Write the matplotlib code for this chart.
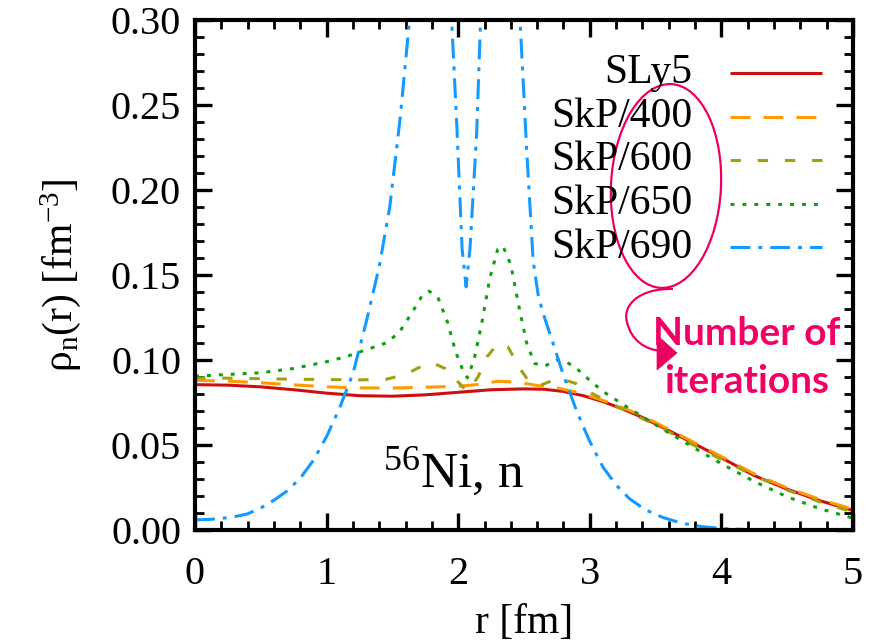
import matplotlib; matplotlib.use("Agg")
import matplotlib.pyplot as plt
import matplotlib.patches as patches
import matplotlib.transforms as mtransforms
from matplotlib.path import Path
from matplotlib.ticker import MultipleLocator, FormatStrFormatter

plt.rcParams["font.family"] = ["Liberation Serif", "DejaVu Serif"]
plt.rcParams["mathtext.fontset"] = "custom"
plt.rcParams["mathtext.rm"] = "Liberation Serif"
plt.rcParams["mathtext.it"] = "Liberation Serif"

# neutron densities, r in fm, rho in fm^-3
r_sly5 = [0.0, 0.25, 0.5, 0.75, 1.0, 1.25, 1.5, 1.75, 2.0, 2.25, 2.5, 2.65,
          2.8, 2.95, 3.1, 3.25, 3.4, 3.55, 3.75, 4.0, 4.25, 4.5, 4.75, 5.0]
rho_sly5 = [0.0855, 0.0852, 0.0842, 0.0825, 0.0805, 0.0790, 0.0787, 0.0795,
            0.0810, 0.0825, 0.0830, 0.0828, 0.0815, 0.0790, 0.0755, 0.0712,
            0.0662, 0.0605, 0.0525, 0.0425, 0.0320, 0.0240, 0.0172, 0.0115]

r_400 = [0.0, 0.25, 0.5, 0.75, 1.0, 1.25, 1.5, 1.75, 2.0, 2.15, 2.3, 2.45,
         2.6, 2.75, 2.9, 3.05, 3.2, 3.35, 3.5, 3.75, 4.0, 4.25, 4.5, 4.75, 5.0]
rho_400 = [0.0880, 0.0876, 0.0866, 0.0854, 0.0842, 0.0836, 0.0835, 0.0840,
           0.0845, 0.0856, 0.0875, 0.0870, 0.0850, 0.0836, 0.0810, 0.0775,
           0.0735, 0.0688, 0.0632, 0.0532, 0.0432, 0.0330, 0.0247, 0.0180,
           0.0122]

r_600 = [0.0, 0.25, 0.5, 0.75, 1.0, 1.25, 1.45, 1.6, 1.7, 1.8, 1.9, 2.0,
         2.07, 2.15, 2.22, 2.3, 2.38, 2.46, 2.55, 2.62, 2.72, 2.8, 2.9, 3.0,
         3.15, 3.3, 3.5, 3.75, 4.0, 4.25, 4.5, 4.75, 5.0]
rho_600 = [0.0895, 0.0893, 0.0890, 0.0887, 0.0885, 0.0883, 0.0886, 0.0915,
           0.0955, 0.0985, 0.0950, 0.0870, 0.0815, 0.0900, 0.1020, 0.1095,
           0.1075, 0.0960, 0.0860, 0.0850, 0.0880, 0.0885, 0.0860, 0.0810,
           0.0750, 0.0690, 0.0620, 0.0515, 0.0415, 0.0320, 0.0235, 0.0165,
           0.0105]

r_650 = [0.0, 0.25, 0.5, 0.75, 1.0, 1.15, 1.3, 1.45, 1.55, 1.65, 1.72, 1.78,
         1.85, 1.92, 1.98, 2.04, 2.07, 2.12, 2.18, 2.24, 2.3, 2.34, 2.4, 2.46,
         2.52, 2.58, 2.66, 2.75, 2.82, 2.9, 3.0, 3.1, 3.3, 3.55, 3.8, 4.0,
         4.25, 4.5, 4.75, 5.0]
rho_650 = [0.0905, 0.0915, 0.0925, 0.0950, 0.0990, 0.1020, 0.1060, 0.1100,
           0.1160, 0.1280, 0.1370, 0.1405, 0.1360, 0.1220, 0.1050, 0.0930,
           0.0895, 0.1000, 0.1220, 0.1480, 0.1650, 0.1670, 0.1560, 0.1320,
           0.1100, 0.0980, 0.0965, 0.1000, 0.0990, 0.0950, 0.0880, 0.0815,
           0.0715, 0.0595, 0.0480, 0.0390, 0.0285, 0.0195, 0.0125, 0.0070]

r_690 = [0.0, 0.1, 0.2, 0.3, 0.4, 0.5, 0.6, 0.7, 0.8, 0.9, 1.0, 1.1, 1.2,
         1.3, 1.4, 1.48, 1.56, 1.63, 1.7, 1.8, 1.9, 1.95, 1.99, 2.03, 2.06,
         2.09, 2.14, 2.17, 2.25, 2.32, 2.4, 2.47, 2.52, 2.57, 2.61, 2.66,
         2.72, 2.8, 2.9, 3.0, 3.1, 3.2, 3.3, 3.42, 3.55, 3.7, 3.85, 4.0,
         4.2, 4.5, 5.0]
rho_690 = [0.0060, 0.0062, 0.0068, 0.0078, 0.0095, 0.0130, 0.0175, 0.0230,
           0.0305, 0.0410, 0.0550, 0.0720, 0.0920, 0.1220, 0.1550, 0.1900,
           0.2430, 0.3000, 0.3600, 0.4000, 0.3600, 0.3000, 0.2370, 0.1650,
           0.1430, 0.1660, 0.2330, 0.3000, 0.4200, 0.4500, 0.4000, 0.3000,
           0.2240, 0.1580, 0.1370, 0.1240, 0.1100, 0.0910, 0.0700, 0.0520,
           0.0370, 0.0265, 0.0185, 0.0120, 0.0075, 0.0040, 0.0020, 0.0009,
           0.0002, 0.0, 0.0]

labels = ["SLy5", "SkP/400", "SkP/600", "SkP/650", "SkP/690"]
colors = ["#cc1010", "#ff9a00", "#a0a010", "#10a010", "#1499ff"]
dashes = [None, (6.5, 4.3), (3.4, 5.5), (1.3, 2.6), (6.5, 2.6, 1.3, 2.6)]

fig = plt.figure(figsize=(8.73, 6.41), dpi=100)
ax = fig.add_axes([195 / 873, 111 / 641, 658 / 873, 510 / 641])

series = [(r_sly5, rho_sly5), (r_400, rho_400), (r_600, rho_600),
          (r_650, rho_650), (r_690, rho_690)]
lw = 2.2
for i, (rr, dd) in enumerate(series):
    line, = ax.plot(rr, dd, color=colors[i], lw=lw, solid_capstyle="butt",
                    dash_capstyle="butt", solid_joinstyle="round")
    if dashes[i] is not None:
        line.set_dashes(dashes[i])

ax.set_xlim(0, 5)
ax.set_ylim(0, 0.30)
ax.xaxis.set_major_locator(MultipleLocator(1))
ax.xaxis.set_minor_locator(MultipleLocator(0.2))
ax.yaxis.set_major_locator(MultipleLocator(0.05))
ax.yaxis.set_minor_locator(MultipleLocator(0.01))
ax.yaxis.set_major_formatter(FormatStrFormatter("%.2f"))
ax.tick_params(which="both", direction="in", top=True, right=True,
               labelsize=29, color="black")
ax.tick_params(which="major", length=12, width=2.4)
ax.tick_params(which="minor", length=6.5, width=2.0)
ax.tick_params(axis="x", which="major", pad=19)
ax.tick_params(axis="y", which="major", pad=10)
for s in ax.spines.values():
    s.set_linewidth(3.0)

ax.set_xlabel("r [fm]", fontsize=30, labelpad=7)
ax.set_ylabel(r"ρ$_\mathregular{n}$(r) [fm$^\mathregular{-3}$]", fontsize=30,
              labelpad=20)

# legend: labels right aligned, samples to their right
y0, step = (530 - 73) / 510, 43.6 / 510
for i in range(5):
    yy = y0 - i * step
    ax.text((692 - 195) / 658, yy, labels[i], transform=ax.transAxes,
            ha="right", va="center", fontsize=30)
    hl, = ax.plot([(730 - 195) / 658, (822 - 195) / 658], [yy, yy],
                  transform=ax.transAxes, color=colors[i], lw=lw,
                  solid_capstyle="butt", dash_capstyle="butt", clip_on=False)
    if dashes[i] is not None:
        hl.set_dashes(dashes[i])

ax.text((383 - 195) / 658, (530 - 487) / 510, r"$^\mathregular{56}$Ni, n",
        transform=ax.transAxes, ha="left", va="baseline", fontsize=37)

# pink annotation, drawn in image pixel coordinates
pink = "#ea0060"
pix = mtransforms.Affine2D().scale(fig.dpi / 100, -fig.dpi / 100).translate(0, fig.bbox.height)
ax.add_patch(patches.Ellipse((666, 186), 110, 204, angle=3, fill=False,
                             edgecolor=pink, lw=1.6, transform=pix, clip_on=False))
verts = [(673, 289), (640, 288), (622, 305), (627, 322),
         (631, 340), (645, 350), (662, 351)]
codes = [Path.MOVETO] + [Path.CURVE4] * 6
ax.add_patch(patches.PathPatch(Path(verts, codes), fill=False, edgecolor=pink,
                               lw=1.6, transform=pix, clip_on=False))
ax.add_patch(patches.Polygon([(657, 335), (677, 353), (657, 370)], closed=True,
                             facecolor=pink, edgecolor=pink, lw=0.5,
                             transform=pix, clip_on=False))
for txt, base in [("Number of", 345), ("iterations", 393)]:
    ax.text((747 - 195) / 658, (530 - base) / 510, txt, transform=ax.transAxes,
            ha="center", va="baseline", fontsize=28, fontweight="bold",
            family=["Lato", "DejaVu Sans"], color="#f20066")

plt.savefig("out.png", dpi=100)
